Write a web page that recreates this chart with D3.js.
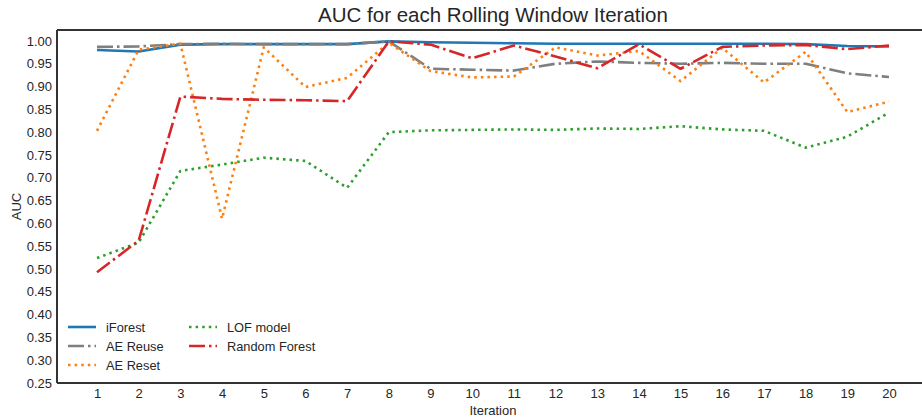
<!DOCTYPE html>
<html><head><meta charset="utf-8">
<script src="https://cdn.jsdelivr.net/npm/d3@7"></script>
<style>body{margin:0;background:#fff;} svg{display:block;font-family:"Liberation Sans",Arial,sans-serif;}</style>
</head><body>
<svg id="chart" width="922" height="419"></svg>
<script>
const iterations = d3.range(1, 21);
const yTicks = d3.range(0.25, 1.0001, 0.05);
const seriesNames = ["iForest", "AE Reuse", "AE Reset", "LOF model", "Random Forest"];
const iForest = [0.980,0.977,0.992,0.993,0.993,0.993,0.993,0.999,0.997,0.996,0.995,0.994,0.994,0.994,0.994,0.994,0.994,0.993,0.989,0.988];
const aeReuse = [0.987,0.988,0.993,0.994,0.993,0.993,0.993,0.999,0.939,0.937,0.935,0.950,0.955,0.952,0.950,0.952,0.950,0.950,0.929,0.921];
const aeReset = [0.803,0.981,0.994,0.610,0.986,0.899,0.919,0.996,0.934,0.920,0.922,0.986,0.968,0.978,0.912,0.985,0.909,0.976,0.844,0.867];
const lofModel = [0.524,0.558,0.715,0.729,0.744,0.737,0.678,0.800,0.804,0.805,0.806,0.805,0.808,0.807,0.813,0.806,0.803,0.766,0.790,0.843];
const randomForest = [0.493,0.562,0.878,0.873,0.871,0.870,0.868,0.999,0.992,0.962,0.990,0.966,0.940,0.993,0.939,0.987,0.990,0.991,0.982,0.990];
const allSeries = [iForest, aeReuse, aeReset, lofModel, randomForest];
const colors = ["#1f77b4", "#7f7f7f", "#ff7f0e", "#2ca02c", "#d62728"];
const dashes = [null, "16,4,2.5,4", "2.5,4.1", "2.5,4.1", "16,4,2.5,4"];

const svg = d3.select("#chart");
const L = 57, R = 929, T = 30, B = 383;
const x = d3.scaleLinear().domain([0.04, 20.96]).range([L, R]);
const y = d3.scaleLinear().domain([0.25, 1.024]).range([B, T]);
const textColor = "#262626";

// axes
const xAxis = svg.append("g").attr("transform", `translate(0,${B})`)
  .call(d3.axisBottom(x).tickValues(iterations).tickSize(0).tickPadding(6).tickFormat(d3.format("d")));
const yAxis = svg.append("g").attr("transform", `translate(${L},0)`)
  .call(d3.axisLeft(y).tickValues(yTicks).tickSize(0).tickPadding(5).tickFormat(d3.format(".2f")));
[xAxis, yAxis].forEach(g => {
  g.select(".domain").remove();
  g.selectAll("text").attr("fill", textColor).style("font-size", "13px").style("font-family", "'Liberation Sans',Arial,sans-serif");
});

// lines
const line = d3.line().x((d, i) => x(iterations[i])).y(d => y(d));
allSeries.forEach((s, k) => {
  svg.append("path").datum(s).attr("d", line)
    .attr("fill", "none").attr("stroke", colors[k]).attr("stroke-width", 2.6)
    .attr("stroke-dasharray", dashes[k]).attr("stroke-linejoin", "round");
});

// spines
const spine = svg.append("g").attr("stroke", "#333").attr("stroke-width", 2).attr("fill", "none");
spine.append("line").attr("x1", L).attr("x2", L).attr("y1", T).attr("y2", B);
spine.append("line").attr("x1", L).attr("x2", R).attr("y1", T).attr("y2", T);
spine.append("line").attr("x1", L).attr("x2", R).attr("y1", B).attr("y2", B);
spine.append("line").attr("x1", R).attr("x2", R).attr("y1", T).attr("y2", B);

// labels
svg.append("text").attr("x", (L + R) / 2).attr("y", 22).attr("text-anchor", "middle")
  .attr("fill", textColor).style("font-size", "20.5px").text("AUC for each Rolling Window Iteration");
svg.append("text").attr("x", (L + R) / 2).attr("y", 415).attr("text-anchor", "middle")
  .attr("fill", textColor).style("font-size", "13px").text("Iteration");
svg.append("text").attr("transform", `translate(21,${(T + B) / 2}) rotate(-90)`).attr("text-anchor", "middle")
  .attr("fill", textColor).style("font-size", "13px").text("AUC");

// legend
const legendPos = [[68, 327], [68, 346], [68, 365], [189, 327], [189, 346]];
seriesNames.forEach((name, k) => {
  const [lx, ly] = legendPos[k];
  const g = svg.append("g").attr("transform", `translate(${lx},${ly})`);
  g.append("line").attr("x1", 0).attr("x2", 28).attr("y1", 0).attr("y2", 0)
    .attr("stroke", colors[k]).attr("stroke-width", 2.6).attr("stroke-dasharray", dashes[k]);
  g.append("text").attr("x", 38).attr("y", 4.5).attr("fill", textColor).style("font-size", "12.8px").text(name);
});
</script>
</body></html>
